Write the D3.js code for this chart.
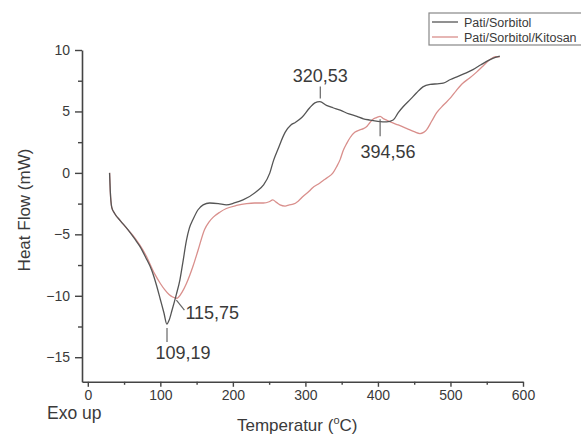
<!DOCTYPE html>
<html>
<head>
<meta charset="utf-8">
<script src="https://cdn.jsdelivr.net/npm/d3@7"></script>
<style>
  body { margin: 0; background: #fff; }
  text { font-family: "Liberation Sans", Arial, sans-serif; fill: #3a3a3a; }
</style>
</head>
<body>
<script>
// Pati/Sorbitol (dark curve)
var tempA = [30, 31, 33, 37, 45, 55, 65, 72, 80, 88, 95, 100, 105, 109, 112, 116, 122, 127, 131, 136,
  140, 145, 152, 159, 168, 180, 191, 202, 214, 233, 242, 251, 256, 262, 272, 280, 286, 295, 306, 313, 320,
  329, 338, 348, 360, 371, 380, 389, 400, 412, 421, 428, 435, 445, 453, 462, 472, 482, 490, 500, 508,
  520, 531, 542, 554, 562, 568];
var flowA = [0, -1.5, -2.8, -3.3, -3.9, -4.6, -5.4, -6.0, -6.9, -7.9, -9.2, -10.3, -11.4, -12.3, -12.0, -11.2, -9.9, -8.7, -7.3, -5.5,
  -4.5, -3.8, -3.0, -2.6, -2.45, -2.5, -2.6, -2.45, -2.2, -1.5, -1.0, 0, 1.0, 1.9, 3.3, 3.9, 4.1, 4.5, 5.3, 5.7, 5.8,
  5.5, 5.3, 5.1, 4.8, 4.6, 4.4, 4.3, 4.2, 4.15, 4.3, 4.9, 5.4, 6.0, 6.5, 7.0, 7.2, 7.25, 7.3, 7.6, 7.8,
  8.1, 8.4, 8.8, 9.2, 9.4, 9.5];

// Pati/Sorbitol/Kitosan (red curve)
var tempB = [30, 31, 33, 37, 45, 55, 65, 72, 80, 92, 100, 106, 112, 117, 123, 130, 136, 145, 152, 161,
  167, 173, 182, 191, 205, 219, 230, 242, 250, 255, 260, 265, 272, 278, 283, 290, 297, 305, 310,
  318, 325, 330, 338, 343, 348, 352, 357, 362, 368, 375, 380, 385, 389, 394, 398, 403, 408, 412, 417,
  428, 440, 450, 458, 463, 467, 474, 481, 490, 500, 508, 517, 526, 536, 545, 554, 562, 568];
var flowB = [0, -1.5, -2.8, -3.3, -3.9, -4.6, -5.3, -5.9, -6.7, -8.2, -9.0, -9.5, -9.9, -10.1, -10.2, -9.7, -9.0, -7.6, -6.3, -4.6,
  -4.0, -3.6, -3.2, -2.9, -2.65, -2.5, -2.45, -2.45, -2.35, -2.2, -2.4, -2.6, -2.7, -2.6, -2.55, -2.3, -1.9, -1.5, -1.2,
  -0.9, -0.6, -0.4, 0, 0.5, 1.1, 1.8, 2.4, 2.9, 3.3, 3.5, 3.6, 3.8, 4.1, 4.4, 4.5, 4.6, 4.4, 4.3, 4.15,
  3.9, 3.6, 3.35, 3.2, 3.3, 3.5, 4.2, 4.9, 5.5, 6.1, 6.7, 7.3, 7.7, 8.2, 8.7, 9.2, 9.45, 9.45];

var seriesNames = ["Pati/Sorbitol", "Pati/Sorbitol/Kitosan"];
var xTicks = [0, 100, 200, 300, 400, 500, 600];
var xMinor = [50, 150, 250, 350, 450, 550];
var yTicks = [10, 5, 0, -5, -10, -15];
var yMinor = [7.5, 2.5, -2.5, -7.5, -12.5];

// peak labels: [temperature, flow, text]
var peaksA = [[109.19, -12.3, "109,19"], [320.53, 5.8, "320,53"]];
var peaksB = [[118, -10.2, "115,75"], [403, 4.6, "394,56"]];

var width = 581, height = 434;
var colA = "#555", colB = "#d98f8c";

var svg = d3.select("body").append("svg")
  .attr("width", width)
  .attr("height", height);

var x = d3.scaleLinear().domain([-8, 600]).range([82, 523]);
var y = d3.scaleLinear().domain([-17, 10]).range([381.8, 50]);

// axes
var axisCol = "#444";
function styleAxis(g) {
  g.select(".domain").attr("stroke", axisCol).attr("stroke-width", 1.6);
  g.selectAll(".tick line").attr("stroke", axisCol).attr("stroke-width", 1.4);
  g.selectAll(".tick text").style("font-size", "14px").attr("fill", "#444");
}

var gx = svg.append("g").attr("transform", "translate(0,381.8)")
  .call(d3.axisBottom(x).tickValues(xTicks).tickSize(5).tickPadding(3).tickSizeOuter(0));
styleAxis(gx);
var gxm = svg.append("g").attr("transform", "translate(0,381.8)")
  .call(d3.axisBottom(x).tickValues(xMinor).tickSize(3).tickFormat("").tickSizeOuter(0));
styleAxis(gxm);
gxm.select(".domain").remove();

var gy = svg.append("g").attr("transform", "translate(82,0)")
  .call(d3.axisLeft(y).tickValues(yTicks).tickSize(7).tickPadding(5).tickSizeOuter(0));
styleAxis(gy);
var gym = svg.append("g").attr("transform", "translate(82,0)")
  .call(d3.axisLeft(y).tickValues(yMinor).tickSize(4).tickFormat("").tickSizeOuter(0));
styleAxis(gym);
gym.select(".domain").remove();

// curves
var line = d3.line()
  .x(function(d) { return x(d[0]); })
  .y(function(d) { return y(d[1]); })
  .curve(d3.curveMonotoneX);

svg.append("path")
  .datum(d3.zip(tempB, flowB))
  .attr("d", line)
  .attr("fill", "none")
  .attr("stroke", colB)
  .attr("stroke-width", 1.3);

svg.append("path")
  .datum(d3.zip(tempA, flowA))
  .attr("d", line)
  .attr("fill", "none")
  .attr("stroke", colA)
  .attr("stroke-width", 1.3);

// peak annotations
var ann = svg.append("g").attr("class", "ann");
function leader(x1, y1, x2, y2) {
  ann.append("line").attr("x1", x1).attr("y1", y1).attr("x2", x2).attr("y2", y2)
    .attr("stroke", "#666").attr("stroke-width", 1.2);
}
function label(tx, ty, s, anchor) {
  ann.append("text").attr("x", tx).attr("y", ty).attr("text-anchor", anchor)
    .style("font-size", "18px").text(s);
}

// 109,19 (below the minimum)
var p = peaksA[0];
leader(x(p[0]), y(p[1]) + 4, x(p[0]), y(p[1]) + 18);
label(x(p[0]) + 16, y(p[1]) + 35, p[2], "middle");
// 320,53 (above the maximum)
p = peaksA[1];
leader(x(p[0]), y(p[1]) - 3, x(p[0]), y(p[1]) - 15);
label(x(p[0]), y(p[1]) - 20, p[2], "middle");
// 115,75 (diagonal leader)
p = peaksB[0];
leader(x(p[0]) + 3, y(p[1]) + 2, x(p[0]) + 11, y(p[1]) + 12);
label(x(p[0]) + 12, y(p[1]) + 21, p[2], "start");
// 394,56
p = peaksB[1];
leader(x(p[0]), y(p[1]) + 3, x(p[0]), y(p[1]) + 20);
label(x(p[0]) + 8, y(p[1]) + 42, p[2], "middle");

// axis titles
svg.append("text")
  .attr("transform", "translate(30,210) rotate(-90)")
  .attr("text-anchor", "middle")
  .style("font-size", "17px")
  .text("Heat Flow (mW)");

svg.append("text")
  .attr("x", 47).attr("y", 419)
  .style("font-size", "17.5px")
  .text("Exo up");

var xt = svg.append("text")
  .attr("x", 237).attr("y", 431)
  .style("font-size", "17px");
xt.append("tspan").text("Temperatur (");
xt.append("tspan").attr("dy", -7).style("font-size", "11px").text("o");
xt.append("tspan").attr("dy", 7).text("C)");

// legend (box runs past the right edge, as in the original)
var lg = svg.append("g").attr("transform", "translate(429,13)");
lg.append("rect").attr("width", 180).attr("height", 32)
  .attr("fill", "#fff").attr("stroke", "#888").attr("stroke-width", 1.2);
lg.selectAll("line.key").data(seriesNames).enter().append("line")
  .attr("class", "key")
  .attr("x1", 3).attr("x2", 29)
  .attr("y1", function(d, i) { return 9 + i * 15; })
  .attr("y2", function(d, i) { return 9 + i * 15; })
  .attr("stroke", function(d, i) { return i === 0 ? colA : colB; })
  .attr("stroke-width", 1.3);
lg.selectAll("text").data(seriesNames).enter().append("text")
  .attr("x", 35)
  .attr("y", function(d, i) { return 14 + i * 15; })
  .style("font-size", "12.5px")
  .attr("fill", "#444")
  .text(function(d) { return d; });
</script>
</body>
</html>
